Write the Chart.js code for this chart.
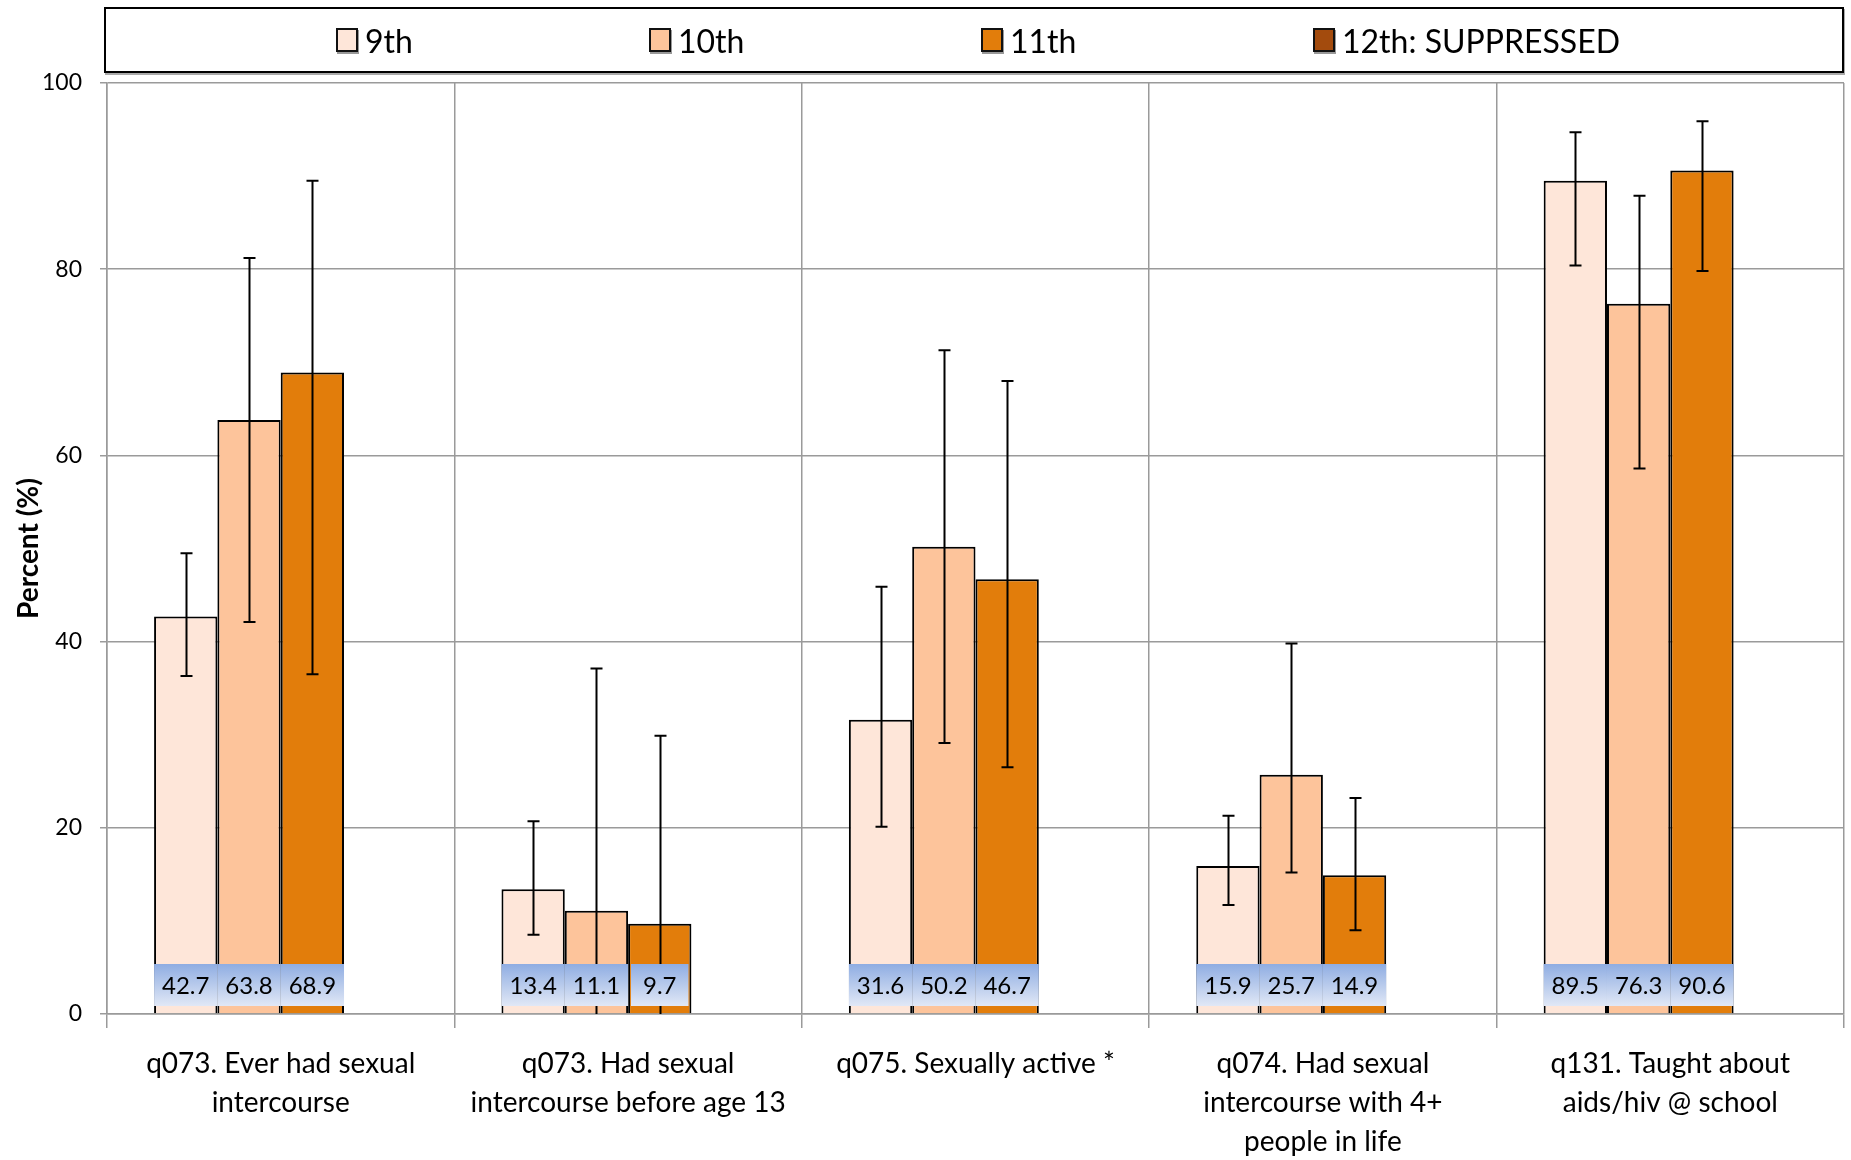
<!DOCTYPE html>
<html>
<head>
<meta charset="utf-8">
<script src="https://cdn.jsdelivr.net/npm/chart.js@4/dist/chart.umd.min.js"></script>
<style>
  html, body { margin: 0; padding: 0; background: #fff; }
  #wrap { position: relative; width: 1851px; height: 1160px; font-family: Lato, 'Open Sans', sans-serif; }
  #legend {
    position: absolute; left: 104px; top: 7px; width: 1736px; height: 62px;
    border: 2px solid #000; box-shadow: 1px 2px 0 #aaa; background: #fff;
  }
  .lg-item { position: absolute; top: 0; height: 62px; display: flex; align-items: center; font-size: 32px; color: #000; }
  .lg-sw { width: 18px; height: 20px; border: 2px solid #111; box-shadow: 1px 2px 0 #999; margin-right: 7px; }
</style>
</head>
<body>
<div id="wrap">
  <canvas id="chart" width="1851" height="1160"></canvas>
  <div id="legend"></div>
</div>
<script>
(function() {
  'use strict';

  // ── Data ──
  var CATEGORIES = [
    ['q073. Ever had sexual', 'intercourse'],
    ['q073. Had sexual', 'intercourse before age 13'],
    ['q075. Sexually active *'],
    ['q074. Had sexual', 'intercourse with 4+', 'people in life'],
    ['q131. Taught about', 'aids/hiv @ school']
  ];
  var SERIES_LABELS = ['9th', '10th', '11th', '12th: SUPPRESSED'];

  var grade9  = [42.7, 13.4, 31.6, 15.9, 89.5];
  var grade10 = [63.8, 11.1, 50.2, 25.7, 76.3];
  var grade11 = [68.9, 9.7, 46.7, 14.9, 90.6];
  var grade12 = [null, null, null, null, null];

  var err9Lo  = [36.3, 8.5, 20.1, 11.7, 80.4];
  var err9Hi  = [49.5, 20.7, 45.9, 21.3, 94.7];
  var err10Lo = [42.1, 0, 29.1, 15.2, 58.6];
  var err10Hi = [81.2, 37.1, 71.3, 39.8, 87.9];
  var err11Lo = [36.5, 0, 26.5, 9.0, 79.8];
  var err11Hi = [89.5, 29.9, 68.0, 23.2, 95.9];

  var Y_TICKS = [0, 20, 40, 60, 80, 100];

  // ── Colors ──
  var FILLS = ['#fee6d9', '#fdc49b', '#e27d0b', '#a34b0d'];
  var GRID = '#9a9a9a';
  var FONT = "Lato, 'Open Sans', sans-serif";

  // ── Legend (HTML, positioned to match) ──
  var LEGEND_X = [230, 543, 875, 1207];
  var legendEl = document.getElementById('legend');
  for (var i = 0; i < SERIES_LABELS.length; i++) {
    var item = document.createElement('div');
    item.className = 'lg-item';
    item.style.left = LEGEND_X[i] + 'px';
    item.innerHTML = '<div class="lg-sw" style="background:' + FILLS[i] + '"></div>' + SERIES_LABELS[i];
    legendEl.appendChild(item);
  }

  // ── Error bars + value labels plugin ──
  var ERR = [[err9Lo, err9Hi], [err10Lo, err10Hi], [err11Lo, err11Hi]];

  var overlayPlugin = {
    id: 'overlay',
    afterDatasetsDraw: function(chart) {
      var ctx = chart.ctx;
      var y = chart.scales.y;
      ctx.save();

      // error bars
      ctx.strokeStyle = '#000';
      ctx.lineWidth = 2;
      for (var d = 0; d < ERR.length; d++) {
        var meta = chart.getDatasetMeta(d);
        for (var k = 0; k < meta.data.length; k++) {
          var bx = Math.round(meta.data[k].x) + 0.5;
          var lo = y.getPixelForValue(ERR[d][0][k]);
          var hi = y.getPixelForValue(ERR[d][1][k]);
          ctx.beginPath();
          ctx.moveTo(bx, lo); ctx.lineTo(bx, hi);
          ctx.moveTo(bx - 6, hi); ctx.lineTo(bx + 6, hi);
          if (ERR[d][0][k] > 0) { ctx.moveTo(bx - 6, lo); ctx.lineTo(bx + 6, lo); }
          ctx.stroke();
        }
      }

      // value label boxes
      var base = y.getPixelForValue(0);
      var top = base - 50, bot = base - 8;
      ctx.font = '24px ' + FONT;
      ctx.textAlign = 'center';
      ctx.textBaseline = 'middle';
      for (var s = 0; s < 3; s++) {
        var m = chart.getDatasetMeta(s);
        var vals = chart.data.datasets[s].data;
        for (var j = 0; j < m.data.length; j++) {
          var bar = m.data[j];
          var txt = vals[j].toFixed(1);
          var w = Math.min(ctx.measureText(txt).width + 24, bar.width);
          var g = ctx.createLinearGradient(0, top, 0, bot);
          g.addColorStop(0, '#8fade2');
          g.addColorStop(1, '#e1e8f6');
          ctx.fillStyle = g;
          ctx.fillRect(bar.x - w / 2, top, w, bot - top);
          ctx.fillStyle = '#000';
          ctx.fillText(txt, bar.x, (top + bot) / 2 + 1);
        }
      }
      ctx.restore();
    }
  };

  function makeSet(label, data, color) {
    return {
      label: label,
      data: data,
      backgroundColor: color,
      borderColor: '#000',
      borderWidth: 2,
      borderSkipped: 'bottom',
      categoryPercentage: 0.729,
      barPercentage: 1
    };
  }

  new Chart(document.getElementById('chart'), {
    type: 'bar',
    data: {
      labels: CATEGORIES,
      datasets: [
        makeSet(SERIES_LABELS[0], grade9, FILLS[0]),
        makeSet(SERIES_LABELS[1], grade10, FILLS[1]),
        makeSet(SERIES_LABELS[2], grade11, FILLS[2]),
        makeSet(SERIES_LABELS[3], grade12, FILLS[3])
      ]
    },
    options: {
      responsive: false,
      animation: false,
      layout: { padding: { top: 83, right: 7, left: 0, bottom: 0 } },
      plugins: { legend: { display: false }, tooltip: { enabled: false } },
      scales: {
        x: {
          grid: { offset: true, color: GRID, lineWidth: 1.5, tickLength: 14, drawOnChartArea: true },
          border: { color: GRID, width: 1.5 },
          ticks: {
            color: '#000', padding: 16, maxRotation: 0, autoSkip: false,
            font: { family: FONT, size: 28, lineHeight: '39px' }
          },
          afterFit: function(s) { s.height = 146; }
        },
        y: {
          min: 0, max: 100,
          afterBuildTicks: function(s) { s.ticks = Y_TICKS.map(function(v) { return { value: v }; }); },
          grid: { color: GRID, lineWidth: 1.5, tickLength: 7 },
          border: { color: GRID, width: 1.5 },
          ticks: { color: '#000', padding: 18, font: { family: FONT, size: 23 } },
          title: {
            display: true, text: 'Percent (%)', color: '#000',
            font: { family: FONT, size: 28, weight: 'bold' },
            padding: { top: 12, bottom: 0 }
          },
          afterFit: function(s) { s.width = 107; }
        }
      }
    },
    plugins: [overlayPlugin]
  });
})();
</script>
</body>
</html>
